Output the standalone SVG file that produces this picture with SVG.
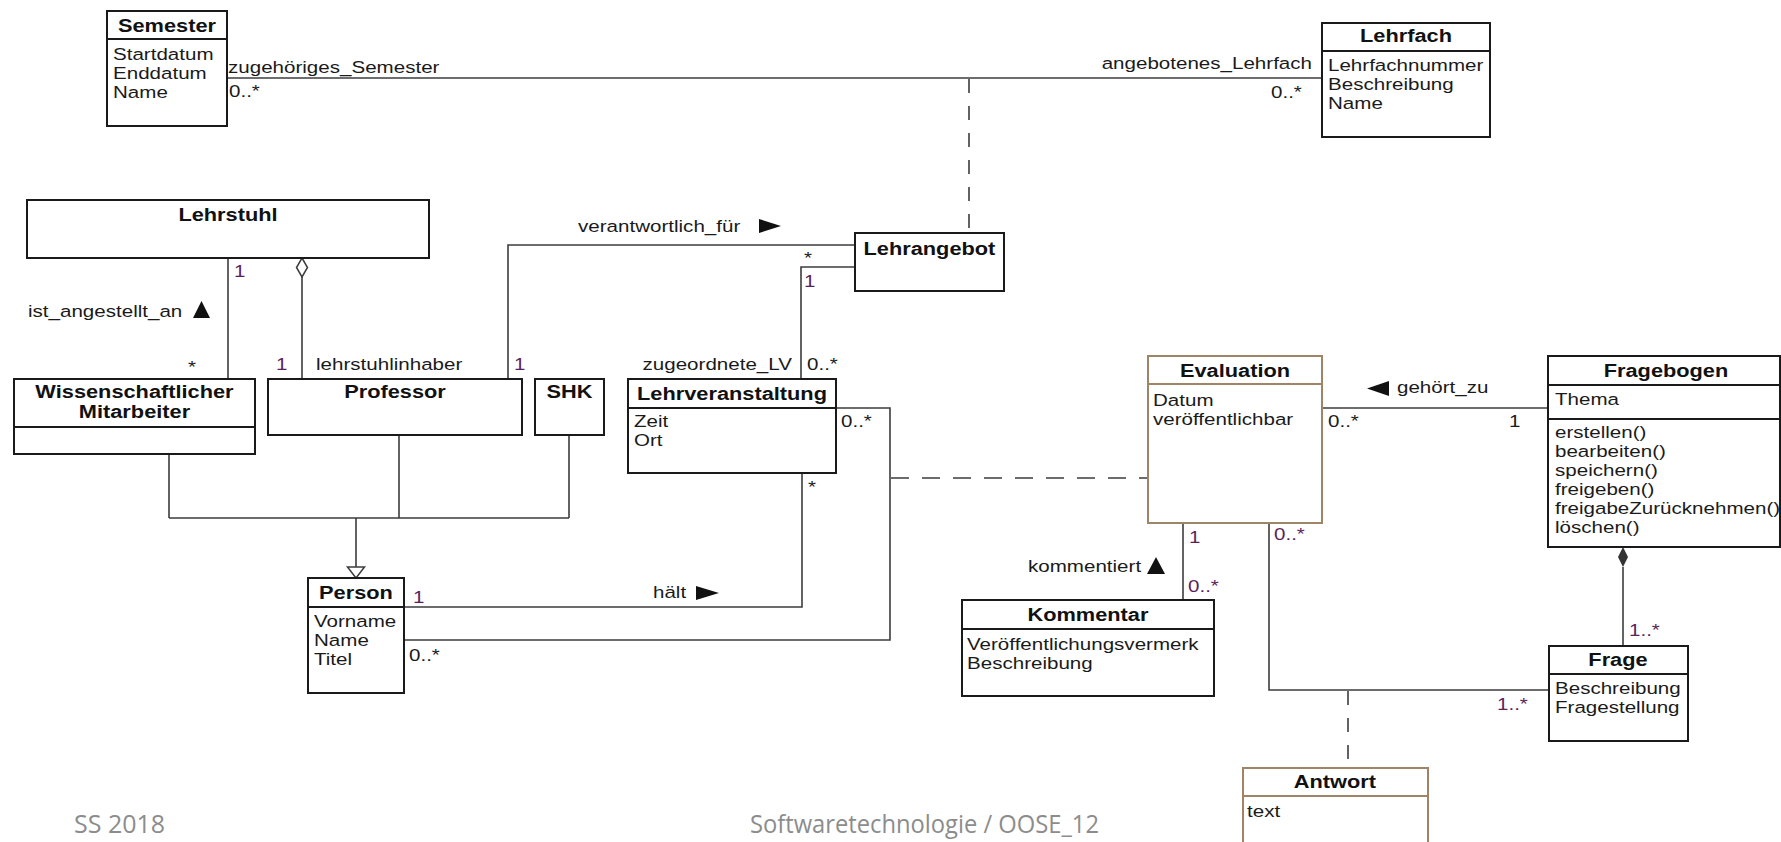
<svg xmlns="http://www.w3.org/2000/svg" width="1781" height="842" viewBox="0 0 1781 842">
<style>
.t{font-family:"Liberation Sans",Arial,sans-serif;font-size:17px;fill:#1a1a1a;transform-box:fill-box;transform-origin:0 50%;transform:scaleX(1.21)}
.b{font-weight:bold;font-size:18px;text-anchor:middle;transform-origin:50% 50%;fill:#111}
.e{text-anchor:end;transform-origin:100% 50%}
.p{fill:#5b1f5b}
.box{fill:#fff;stroke:#1a1a1a;stroke-width:2}
.br{stroke:#a08468}
.ln{fill:none;stroke:#3c3c3c;stroke-width:1.6}
.dh{stroke-dasharray:18 13}
.dv{stroke-dasharray:14 13}
.sep{stroke:#1a1a1a;stroke-width:2}
.sepb{stroke:#a08468;stroke-width:2}
.tri{fill:#111}
.foot{font-family:"Open Sans","Noto Sans",sans-serif;font-size:26px;fill:#8c8c8c}
</style>
<rect x="0" y="0" width="1781" height="842" fill="#fff"/>

<g id="connectors">
  <path class="ln" d="M227 78 H1322"/>
  <path class="ln dv" d="M969 79 V233"/>
  <path class="ln" d="M228 258 V379"/>
  <path class="ln" d="M302 277 V379"/>
  <polygon points="302,258 307.5,267.5 302,277 296.5,267.5" fill="#fff" stroke="#3c3c3c" stroke-width="1.5"/>
  <path class="ln" d="M508 379 V245 H855"/>
  <path class="ln" d="M855 267 H801 V379"/>
  <path class="ln" d="M169 454 V518 M399 435 V518 M569 435 V518 M169 518 H569 M356 518 V567"/>
  <polygon points="356,578 347.5,567 364.5,567" fill="#fff" stroke="#3c3c3c" stroke-width="1.5"/>
  <path class="ln" d="M802 473 V607 H404"/>
  <path class="ln" d="M404 640 H890 V408 H836"/>
  <path class="ln dh" d="M891 478 H1148"/>
  <path class="ln" d="M1322 408 H1548"/>
  <path class="ln" d="M1183 523 V600"/>
  <path class="ln" d="M1269 523 V690 H1549"/>
  <path class="ln dv" d="M1348 691 V768"/>
  <path class="ln" d="M1623 567 V646"/>
  <polygon points="1623,547 1628,557 1623,567 1618,557" fill="#333"/>

  <polygon class="tri" points="759,219 759,233 781,226"/>
  <polygon class="tri" points="193,318 210,318 201.5,301"/>
  <polygon class="tri" points="696,586 696,600 719,593"/>
  <polygon class="tri" points="1389,381 1389,396 1367,388.5"/>
  <polygon class="tri" points="1147,574 1165,574 1156,557"/>

  <text class="t" x="228" y="73">zugehöriges_Semester</text>
  <text class="t" x="229" y="97">0..*</text>
  <text class="t e" x="1312" y="69">angebotenes_Lehrfach</text>
  <text class="t e" x="1302" y="98">0..*</text>
  <text class="t p" x="234" y="277">1</text>
  <text class="t" x="28" y="317">ist_angestellt_an</text>
  <text class="t" x="188" y="373">*</text>
  <text class="t p" x="276" y="370">1</text>
  <text class="t" x="316" y="370">lehrstuhlinhaber</text>
  <text class="t p" x="514" y="370">1</text>
  <text class="t" x="578" y="232">verantwortlich_für</text>
  <text class="t" x="804" y="264">*</text>
  <text class="t p" x="804" y="287">1</text>
  <text class="t e" x="792" y="370">zugeordnete_LV</text>
  <text class="t" x="807" y="370">0..*</text>
  <text class="t" x="841" y="427">0..*</text>
  <text class="t" x="808" y="493">*</text>
  <text class="t" x="653" y="598">hält</text>
  <text class="t p" x="413" y="603">1</text>
  <text class="t" x="409" y="661">0..*</text>
  <text class="t" x="1397" y="393">gehört_zu</text>
  <text class="t" x="1328" y="427">0..*</text>
  <text class="t" x="1509" y="427">1</text>
  <text class="t p" x="1189" y="543">1</text>
  <text class="t" x="1028" y="572">kommentiert</text>
  <text class="t p" x="1188" y="592">0..*</text>
  <text class="t p" x="1274" y="540">0..*</text>
  <text class="t p" x="1629" y="636">1..*</text>
  <text class="t p" x="1497" y="710">1..*</text>
</g>

<g id="Semester">
  <rect class="box" x="107" y="11" width="120" height="115"/>
  <line class="sep" x1="107" y1="39" x2="227" y2="39"/>
  <text class="t b" x="167" y="32">Semester</text>
  <text class="t" x="113" y="60">Startdatum</text>
  <text class="t" x="113" y="79">Enddatum</text>
  <text class="t" x="113" y="98">Name</text>
</g>

<g id="Lehrfach">
  <rect class="box" x="1322" y="23" width="168" height="114"/>
  <line class="sep" x1="1322" y1="51" x2="1490" y2="51"/>
  <text class="t b" x="1406" y="42">Lehrfach</text>
  <text class="t" x="1328" y="71">Lehrfachnummer</text>
  <text class="t" x="1328" y="90">Beschreibung</text>
  <text class="t" x="1328" y="109">Name</text>
</g>

<g id="Lehrstuhl">
  <rect class="box" x="27" y="200" width="402" height="58"/>
  <text class="t b" x="228" y="221">Lehrstuhl</text>
</g>

<g id="WissenschaftlicherMitarbeiter">
  <rect class="box" x="14" y="379" width="241" height="75"/>
  <line class="sep" x1="14" y1="427" x2="255" y2="427"/>
  <text class="t b" x="134.5" y="398">Wissenschaftlicher</text>
  <text class="t b" x="134.5" y="418">Mitarbeiter</text>
</g>

<g id="Professor">
  <rect class="box" x="268" y="379" width="254" height="56"/>
  <text class="t b" x="395" y="398">Professor</text>
</g>

<g id="SHK">
  <rect class="box" x="535" y="379" width="69" height="56"/>
  <text class="t b" x="569.5" y="398">SHK</text>
</g>

<g id="Lehrangebot">
  <rect class="box" x="855" y="233" width="149" height="58"/>
  <text class="t b" x="929.5" y="255">Lehrangebot</text>
</g>

<g id="Lehrveranstaltung">
  <rect class="box" x="628" y="379" width="208" height="94"/>
  <line class="sep" x1="628" y1="408" x2="836" y2="408"/>
  <text class="t b" x="732" y="400">Lehrveranstaltung</text>
  <text class="t" x="634" y="427">Zeit</text>
  <text class="t" x="634" y="446">Ort</text>
</g>

<g id="Person">
  <rect class="box" x="308" y="578" width="96" height="115"/>
  <line class="sep" x1="308" y1="607" x2="404" y2="607"/>
  <text class="t b" x="356" y="599">Person</text>
  <text class="t" x="314" y="627">Vorname</text>
  <text class="t" x="314" y="646">Name</text>
  <text class="t" x="314" y="665">Titel</text>
</g>

<g id="Evaluation">
  <rect class="box br" x="1148" y="356" width="174" height="167"/>
  <line class="sepb" x1="1148" y1="384" x2="1322" y2="384"/>
  <text class="t b" x="1235" y="377">Evaluation</text>
  <text class="t" x="1153" y="406">Datum</text>
  <text class="t" x="1153" y="425">veröffentlichbar</text>
</g>

<g id="Fragebogen">
  <rect class="box" x="1548" y="356" width="232" height="191"/>
  <line class="sep" x1="1548" y1="385" x2="1780" y2="385"/>
  <line class="sep" x1="1548" y1="419" x2="1780" y2="419"/>
  <text class="t b" x="1666" y="377">Fragebogen</text>
  <text class="t" x="1555" y="405">Thema</text>
  <text class="t" x="1555" y="438">erstellen()</text>
  <text class="t" x="1555" y="457">bearbeiten()</text>
  <text class="t" x="1555" y="476">speichern()</text>
  <text class="t" x="1555" y="495">freigeben()</text>
  <text class="t" x="1555" y="514">freigabeZurücknehmen()</text>
  <text class="t" x="1555" y="533">löschen()</text>
</g>

<g id="Kommentar">
  <rect class="box" x="962" y="600" width="252" height="96"/>
  <line class="sep" x1="962" y1="629" x2="1214" y2="629"/>
  <text class="t b" x="1088" y="621">Kommentar</text>
  <text class="t" x="967" y="650">Veröffentlichungsvermerk</text>
  <text class="t" x="967" y="669">Beschreibung</text>
</g>

<g id="Frage">
  <rect class="box" x="1549" y="646" width="139" height="95"/>
  <line class="sep" x1="1549" y1="674" x2="1688" y2="674"/>
  <text class="t b" x="1618" y="666">Frage</text>
  <text class="t" x="1555" y="694">Beschreibung</text>
  <text class="t" x="1555" y="713">Fragestellung</text>
</g>

<g id="Antwort">
  <rect class="box br" x="1243" y="768" width="185" height="90"/>
  <line class="sepb" x1="1243" y1="796" x2="1428" y2="796"/>
  <text class="t b" x="1335" y="788">Antwort</text>
  <text class="t" x="1247" y="817">text</text>
</g>

<g id="footer">
  <text class="foot" x="74" y="833" textLength="91" lengthAdjust="spacingAndGlyphs">SS 2018</text>
  <text class="foot" x="750" y="833" textLength="349" lengthAdjust="spacingAndGlyphs">Softwaretechnologie / OOSE_12</text>
</g>
</svg>
